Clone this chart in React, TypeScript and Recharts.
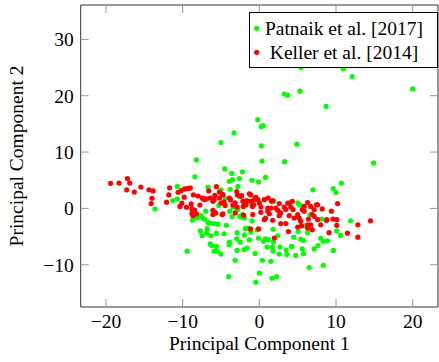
import { ReferenceLine, Scatter, ScatterChart, XAxis, YAxis } from "recharts";

const patnaikPoints: [number, number][] = [
  [5.45, 25.0], [10.95, 24.8], [12.1, 23.4], [20.0, 21.2], [3.25, 20.3], [3.7, 20.1], [5.3, 20.8],
  [8.7, 18.1], [-0.2, 15.75], [0.26, 14.5], [0.5, 14.7], [0.26, 11.1], [4.9, 11.4], [-3.3, 13.4],
  [-5.0, 11.7], [-8.2, 8.6], [0.35, 8.4], [3.3, 8.3], [14.9, 8.05], [-2.2, 6.5], [-4.5, 7.0],
  [-3.6, 6.2], [-8.4, 5.6], [-3.9, 4.8], [-3.5, 5.1], [-2.6, 5.3], [-0.95, 5.0], [-0.1, 4.7],
  [0.8, 5.5], [10.7, 4.5], [9.65, 3.5], [10.0, 2.8], [7.0, 3.3], [-10.7, 3.9], [-10.7, 1.7],
  [-11.3, 1.4], [-13.6, -0.1], [-6.7, 3.8], [-5.0, 3.3], [-3.8, 3.4], [-2.8, 3.9], [-4.45, 1.7],
  [-3.4, 0.25], [-5.3, 0.5], [1.9, 1.25], [5.0, 1.0], [5.3, 0.6], [-1.1, 0.8], [-2.6, 2.1],
  [-2.8, -0.2], [-7.0, -0.5], [-5.75, -0.8], [-3.85, -0.5], [-3.55, -1.5], [-2.55, -1.4],
  [-1.95, -1.7], [-7.6, -1.3], [-8.1, -1.65], [-7.15, -1.9], [-8.7, -2.1], [-6.45, -2.6],
  [-5.4, -2.8], [-4.3, -3.0], [-7.7, -4.0], [-7.45, -4.85], [-6.85, -4.4], [-6.3, -4.85],
  [-5.6, -4.4], [-4.6, -4.5], [-2.9, -4.3], [-1.8, -3.55], [-1.95, -4.7], [-1.3, -5.6],
  [-2.95, -5.4], [-2.5, -6.0], [-3.9, -6.0], [-3.95, -6.45], [-6.4, -6.3], [-6.2, -6.6],
  [-5.6, -6.75], [-5.9, -7.6], [-5.0, -8.1], [-5.5, -7.6], [-2.0, -7.3], [-1.6, -7.05],
  [-0.55, -8.0], [-0.1, -5.3], [0.55, -5.85], [0.8, -5.4], [1.2, -5.55], [1.85, -6.0],
  [1.0, -6.85], [1.7, -6.85], [2.7, -6.85], [1.8, -7.6], [2.6, -8.1], [3.6, -8.2], [4.2, -6.75],
  [-3.15, -9.2], [0.4, -9.2], [1.5, -9.4], [-4.0, -12.1], [-0.45, -13.1], [0.0, -11.5],
  [1.65, -12.4], [2.25, -12.1], [-2.9, -7.45], [-1.5, -3.5], [-0.3, -3.8], [1.8, -3.7],
  [2.4, -4.85], [-9.4, -7.6], [-0.95, -2.2], [-2.4, -1.5], [-1.1, -4.2], [-2.2, -1.1],
  [-6.7, -2.5], [-5.9, -2.7], [-6.8, -3.6], [6.6, -1.1], [8.1, -1.9], [11.9, -2.2], [5.85, -3.1],
  [5.05, -4.1], [6.3, -4.3], [6.7, -3.3], [10.1, -4.0], [10.6, -4.8], [5.4, -5.45], [8.0, -5.3],
  [8.35, -5.85], [8.9, -5.75], [7.65, -6.6], [7.15, -7.2], [5.6, -7.2], [5.75, -8.05],
  [9.65, -7.45], [4.75, -8.35], [8.35, -10.1], [6.5, -10.5], [4.5, -5.1], [5.75, -5.7],
  [3.5, -7.4], [-8.0, -1.3], [-7.3, -1.8],
];

const kellerPoints: [number, number][] = [
  [-19.4, 4.45], [-18.3, 4.5], [-17.2, 5.3], [-16.9, 4.5], [-17.3, 3.3], [-16.3, 2.9],
  [-15.45, 3.8], [-14.4, 3.3], [-13.85, 3.1], [-14.0, 1.8], [-14.1, 0.85], [-12.1, 1.1],
  [-11.8, 2.4], [-11.7, 3.65], [-10.6, 2.85], [-10.2, 3.15], [-9.75, 3.45], [-9.3, 3.55],
  [-9.0, 3.6], [-9.8, 2.0], [-8.6, 2.4], [-10.1, 0.95], [-10.35, 0.35], [-9.5, 0.2], [-8.9, 0.8],
  [-8.8, -0.05], [-8.45, -0.3], [-8.8, -0.9], [-8.65, -1.3], [-8.2, -0.95], [-7.75, 0.6],
  [-7.35, 1.8], [-6.9, 1.7], [-6.6, 3.1], [-6.4, 1.85], [-5.9, 1.55], [-5.8, 2.3], [-5.6, 3.85],
  [-5.2, 2.9], [-4.8, 2.5], [-4.6, 1.1], [-6.05, -0.35], [-5.7, -0.8], [-4.85, -1.1],
  [-3.75, 1.5], [-3.45, 0.6], [-3.15, 1.0], [-2.95, 3.0], [-2.85, 2.4], [-2.3, 2.25],
  [-2.15, 1.25], [-2.1, 0.35], [-2.05, -1.2], [-1.65, 1.4], [-1.3, 2.6], [-0.9, 0.35],
  [-0.45, 1.95], [-1.15, -3.65], [-0.1, -3.65], [-7.45, 1.85], [-7.15, 1.55], [-6.05, 1.25],
  [-5.2, 1.85], [-5.0, 0.95], [-3.9, 1.85], [-4.75, 2.4], [-3.15, -0.8], [-4.45, 0.5],
  [-2.9, 0.25], [-1.75, 0.65], [-1.1, 1.25], [-0.74, 0.65], [-0.2, 1.55], [0.65, 1.55],
  [1.15, 1.85], [1.6, 1.25], [1.1, 0.05], [2.15, 0.05], [2.6, 0.85], [3.9, 0.95], [4.1, 0.25],
  [3.25, 0.25], [0.2, 0.25], [-2.4, 2.15], [-1.1, 2.4], [-0.65, 1.55], [0.0, 0.95], [1.75, 1.4],
  [1.5, 0.05], [1.1, -0.5], [-0.85, -1.1], [0.65, -2.0], [1.75, -2.1], [1.95, -5.25],
  [2.4, -0.35], [2.8, -0.8], [2.6, -1.3], [3.45, -0.2], [3.7, 0.95], [4.3, 1.25], [4.4, -0.2],
  [3.9, -1.3], [3.45, -2.7], [3.8, -4.1], [4.55, -1.7], [5.0, -1.1], [5.2, -1.7], [5.4, -2.3],
  [5.6, -0.2], [5.85, 0.35], [6.3, 1.05], [6.7, 0.35], [7.15, -0.2], [7.45, 0.65], [6.9, -1.1],
  [6.4, -1.9], [6.3, -2.9], [6.7, -2.9], [6.9, -3.8], [6.3, -3.5], [7.6, -2.0], [8.2, -0.1],
  [8.75, -2.1], [9.4, -0.5], [9.6, -1.9], [10.1, -2.0], [10.1, -3.0], [9.1, -4.3], [11.5, -4.4],
  [12.85, -2.9], [12.85, -5.1], [14.5, -2.2], [8.0, -2.9], [5.5, -3.1], [5.0, -3.3],
  [5.85, -0.5], [7.15, -1.4], [8.8, -2.0], [10.2, 0.85], [7.6, 0.65], [-6.05, -1.1],
  [-4.75, -0.95], [0.2, -0.7], [0.8, -1.7], [1.3, -0.95], [2.8, -2.7], [-8.0, 2.2],
];

const seriesNames = ["Patnaik et al. [2017]", "Keller et al. [2014]"];
const seriesColors = ["#00ff00", "#ff0000"];

const xTicks = [-20, -10, 0, 10, 20];
const yTicks = [-10, 0, 10, 20, 30];
const xDomain = [-23.3, 23.3];
const yDomain = [-17.5, 36.1];

const W = 439;
const H = 362;
const margin = { top: 5, right: 1, bottom: 0, left: 0 };
const yAxisWidth = 80.7;
const xAxisHeight = 55;
// plot box, derived from the chart size, margins and axis sizes
const plot = {
  left: margin.left + yAxisWidth,
  right: W - margin.right,
  top: margin.top,
  bottom: H - margin.bottom - xAxisHeight,
};

const font = '"Liberation Serif", "DejaVu Serif", serif';
const fontSize = 19.5;
const frameColor = "#333";
const tickColor = "#999";
const tickLen = 8;

const toRows = (points: [number, number][]) => points.map(([x, y]) => ({ x, y }));

const fmt = (v: number) => (v < 0 ? `\u2212${Math.abs(v)}` : `${v}`);

const dot = (color: string) => (props: any) => (
  <circle cx={props.cx} cy={props.cy} r={2.6} fill={color} />
);

// x tick: label below the axis plus inward marks at the bottom and top of the frame
const XTick = (props: any) => {
  const { x, y, payload } = props;
  return (
    <g>
      <line x1={x} x2={x} y1={plot.bottom} y2={plot.bottom - tickLen} stroke={tickColor} />
      <line x1={x} x2={x} y1={plot.top} y2={plot.top + tickLen} stroke={tickColor} />
      <text x={x} y={y} dy="0.71em" textAnchor="middle" fill="#000" fontSize={fontSize} fontFamily={font}>
        {fmt(payload.value)}
      </text>
    </g>
  );
};

// y tick: label left of the axis plus inward marks at the left and right of the frame
const YTick = (props: any) => {
  const { x, y, payload } = props;
  return (
    <g>
      <line x1={plot.left} x2={plot.left + tickLen} y1={y} y2={y} stroke={tickColor} />
      <line x1={plot.right} x2={plot.right - tickLen} y1={y} y2={y} stroke={tickColor} />
      <text x={x} y={y} dy="0.355em" textAnchor="end" fill="#000" fontSize={fontSize} fontFamily={font}>
        {fmt(payload.value)}
      </text>
    </g>
  );
};

function PlotLegend() {
  const left = 249;
  const top = 12;
  const w = 189;
  const h = 56;
  return (
    <svg
      width={w + 2}
      height={h + 2}
      style={{ position: "absolute", left: left - 1, top: top - 1 }}
    >
      <rect x={1.5} y={1.5} width={w - 1} height={h - 1} fill="#fff" stroke="#000" strokeWidth={1} />
      {seriesNames.map((name, i) => (
        <g key={name}>
          <circle cx={8.7} cy={17.3 + i * 24} r={2.6} fill={seriesColors[i]} />
          <text
            x={96}
            y={17.3 + i * 24}
            dy="0.35em"
            textAnchor="middle"
            fill="#000"
            fontSize={fontSize}
            fontFamily={font}
          >
            {name}
          </text>
        </g>
      ))}
    </svg>
  );
}

export default function App() {
  return (
    <div style={{ position: "absolute", left: 0, top: 0, width: W, height: H, background: "#fff" }}>
      <ScatterChart width={W} height={H} margin={margin}>
        <XAxis
          dataKey="x"
          type="number"
          domain={xDomain}
          ticks={xTicks}
          allowDataOverflow
          height={xAxisHeight}
          tickLine={false}
          tickSize={6}
          tickMargin={1}
          axisLine={{ stroke: frameColor }}
          tick={<XTick />}
          label={{
            value: "Principal Component 1",
            position: "center",
            dy: 9,
            fill: "#000",
            fontSize,
            fontFamily: font,
          }}
        />
        <YAxis
          dataKey="y"
          type="number"
          domain={yDomain}
          ticks={yTicks}
          allowDataOverflow
          width={yAxisWidth}
          tickLine={false}
          tickSize={6}
          tickMargin={1}
          axisLine={{ stroke: frameColor }}
          tick={<YTick />}
          label={{
            value: "Principal Component 2",
            angle: -90,
            position: "center",
            dx: -24,
            fill: "#000",
            fontSize,
            fontFamily: font,
          }}
        />
        <ReferenceLine x={xDomain[1]} stroke={frameColor} ifOverflow="visible" />
        <ReferenceLine y={yDomain[1]} stroke={frameColor} ifOverflow="visible" />
        <Scatter
          name={seriesNames[0]}
          data={toRows(patnaikPoints)}
          fill={seriesColors[0]}
          shape={dot(seriesColors[0])}
          isAnimationActive={false}
        />
        <Scatter
          name={seriesNames[1]}
          data={toRows(kellerPoints)}
          fill={seriesColors[1]}
          shape={dot(seriesColors[1])}
          isAnimationActive={false}
        />
      </ScatterChart>
      <PlotLegend />
    </div>
  );
}
